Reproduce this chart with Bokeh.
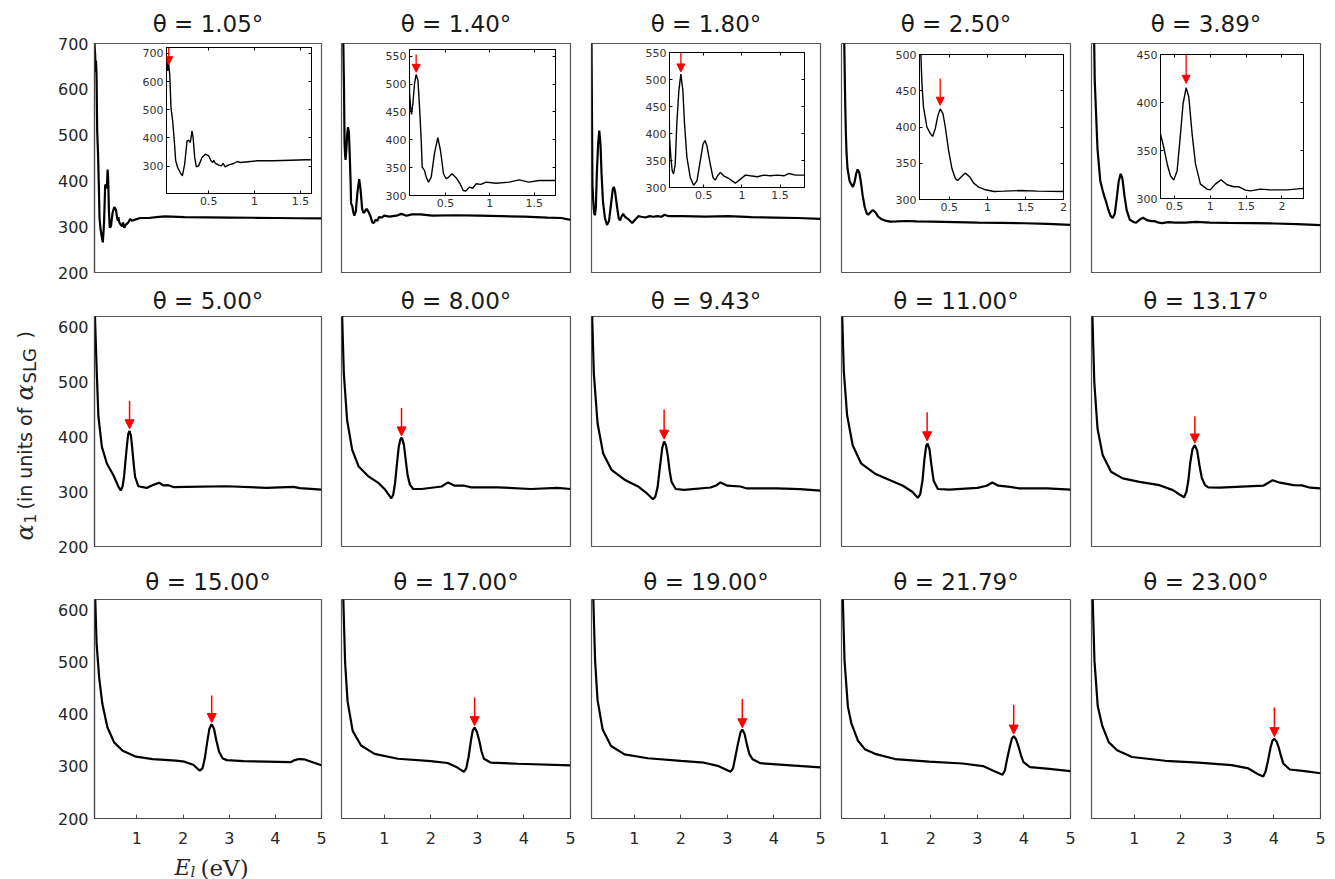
import math
from jinja2 import Template
from bokeh.plotting import figure
from bokeh.models import Range1d, Arrow, NormalHead, Label, FixedTicker, LinearAxis
from bokeh.embed import file_html
from bokeh.resources import INLINE

FONT = "DejaVu Sans"
SERIF = "DejaVu Serif"
INK = "#262626"

titles = ["θ = 1.05°", "θ = 1.40°", "θ = 1.80°", "θ = 2.50°", "θ = 3.89°",
          "θ = 5.00°", "θ = 8.00°", "θ = 9.43°", "θ = 11.00°", "θ = 13.17°",
          "θ = 15.00°", "θ = 17.00°", "θ = 19.00°", "θ = 21.79°", "θ = 23.00°"]

# (E_l in eV, alpha_1 in units of alpha_SLG)
c105 = [(0.03, 700), (0.045, 674), (0.053, 638), (0.064, 662), (0.075, 627), (0.089, 508), (0.107, 461),
        (0.125, 390), (0.14, 319), (0.162, 295), (0.19, 277.5), (0.213, 265.7), (0.238, 307), (0.264, 390),
        (0.28, 392), (0.30, 384), (0.318, 425), (0.33, 402), (0.347, 331), (0.365, 298), (0.39, 301),
        (0.427, 331), (0.464, 342.6), (0.5, 336.7), (0.525, 319), (0.544, 313), (0.555, 321), (0.573, 309.5),
        (0.61, 303.5), (0.638, 301), (0.656, 309.5), (0.68, 297.6), (0.718, 304.7), (0.773, 309.5),
        (0.81, 316.6), (0.845, 313), (0.955, 316.6), (1.03, 319), (1.21, 319), (1.39, 321), (1.57, 322.5),
        (2.0, 321), (2.5, 320.5), (3.0, 320), (3.5, 319.5), (4.0, 319), (4.5, 318.5), (5.0, 318)]
c140 = [(0.03, 900), (0.06, 760), (0.085, 600), (0.096, 483), (0.107, 459), (0.118, 445.7), (0.133, 465),
        (0.152, 501), (0.17, 517), (0.19, 507), (0.208, 459), (0.227, 399), (0.238, 351), (0.264, 345),
        (0.283, 333), (0.309, 324), (0.34, 333), (0.376, 375), (0.414, 403.7), (0.444, 381), (0.478, 339),
        (0.508, 330), (0.537, 333), (0.575, 339), (0.62, 332), (0.665, 321), (0.70, 309), (0.73, 308),
        (0.77, 315), (0.807, 313), (0.845, 321), (0.9, 320), (0.957, 324), (1.07, 322), (1.22, 324),
        (1.33, 328), (1.44, 324), (1.556, 327), (1.74, 327), (2.0, 324), (2.5, 325), (3.0, 324),
        (3.5, 323), (4.0, 322), (4.5, 320), (4.8, 319), (5.0, 315)]
c180 = [(0.01, 1000), (0.03, 700), (0.05, 393), (0.068, 356), (0.085, 331), (0.103, 325), (0.125, 343),
        (0.146, 418), (0.173, 480), (0.199, 510), (0.225, 480), (0.247, 418), (0.278, 356), (0.322, 318.6),
        (0.366, 304), (0.41, 312.4), (0.454, 349.6), (0.49, 380.6), (0.515, 387), (0.54, 377.5),
        (0.585, 343), (0.62, 318.6), (0.65, 313.6), (0.68, 321.7), (0.717, 328), (0.76, 321.7),
        (0.826, 316.7), (0.87, 312.4), (0.914, 308), (0.98, 315.5), (1.046, 323), (1.11, 321.7),
        (1.2, 320), (1.29, 323), (1.37, 321.7), (1.46, 323), (1.55, 321.7), (1.616, 326), (1.7, 323),
        (1.813, 323), (2.0, 323), (2.5, 322), (3.0, 323), (3.5, 321), (4.0, 320), (4.5, 319), (5.0, 317)]
c250 = [(0.03, 1100), (0.06, 880), (0.09, 700), (0.11, 570), (0.126, 500), (0.14, 460), (0.16, 427.6),
        (0.205, 400), (0.25, 390.8), (0.28, 387), (0.315, 397.7), (0.35, 416), (0.38, 425), (0.416, 418.4),
        (0.447, 400), (0.49, 367.7), (0.535, 342.4), (0.58, 328.6), (0.61, 326.3), (0.654, 330.9),
        (0.71, 336.4), (0.77, 330.9), (0.82, 322.6), (0.887, 317), (0.975, 313.4), (1.085, 311),
        (1.217, 311.5), (1.437, 312.4), (1.657, 311.5), (2.0, 311), (2.5, 310), (3.0, 309), (3.5, 308.5),
        (4.0, 307.5), (4.5, 306), (5.0, 304)]
c389 = [(0.03, 1300), (0.06, 900), (0.1, 620), (0.16, 470), (0.22, 400), (0.27, 380), (0.305, 367.3),
        (0.35, 353.4), (0.398, 336), (0.444, 323.7), (0.49, 319.2), (0.537, 329), (0.584, 367.3),
        (0.62, 398.7), (0.663, 415.5), (0.70, 405.7), (0.746, 367.3), (0.793, 336), (0.862, 315),
        (0.955, 309.8), (1.0, 309), (1.07, 315), (1.15, 319.5), (1.234, 314.3), (1.327, 312.2),
        (1.4, 312.2), (1.49, 308.7), (1.56, 308), (1.7, 309.8), (1.84, 309), (2.07, 309), (2.3, 310.5),
        (2.6, 309), (3.0, 308.5), (3.5, 308), (4.0, 307), (4.5, 305.5), (5.0, 303.5)]
c500 = [(0.08, 700), (0.09, 620), (0.13, 516), (0.165, 437), (0.24, 382), (0.35, 351), (0.49, 330),
        (0.60, 309), (0.65, 302.4), (0.69, 310), (0.72, 327), (0.75, 355), (0.78, 382), (0.81, 405),
        (0.84, 411), (0.87, 402), (0.895, 382), (0.93, 350), (0.96, 327), (1.03, 310), (1.21, 307),
        (1.37, 313), (1.48, 316.5), (1.57, 311.6), (1.68, 312), (1.79, 308.5), (2.08, 309), (2.94, 310),
        (3.81, 307), (4.39, 309), (4.53, 306.7), (5.0, 303.7)]
c800 = [(0.085, 700), (0.094, 620), (0.13, 516.5), (0.2, 431), (0.31, 376.5), (0.45, 346), (0.66, 328),
        (0.88, 315.6), (1.02, 303.5), (1.15, 288), (1.19, 294), (1.23, 315), (1.27, 350), (1.31, 382),
        (1.35, 397), (1.38, 398), (1.42, 386), (1.46, 358), (1.50, 330), (1.55, 313), (1.62, 305),
        (1.80, 305), (2.23, 309.6), (2.37, 317), (2.51, 311), (2.72, 311), (2.87, 308), (3.44, 308),
        (4.15, 305), (4.72, 307), (5.0, 305)]
c943 = [(0.085, 700), (0.094, 620), (0.13, 516), (0.21, 425), (0.33, 370), (0.51, 340), (0.79, 322),
        (1.08, 309.6), (1.25, 298.6), (1.40, 286.4), (1.45, 291), (1.50, 308), (1.55, 345), (1.60, 380),
        (1.64, 391.7), (1.68, 385), (1.72, 365), (1.76, 337), (1.80, 318), (1.89, 305), (2.07, 303.5),
        (2.64, 307.7), (2.77, 312), (2.85, 317), (3.0, 311), (3.28, 309.6), (3.42, 306), (4.06, 306),
        (4.56, 304.7), (5.0, 302)]
c1100 = [(0.085, 700), (0.095, 620), (0.13, 520), (0.2, 440), (0.32, 385), (0.5, 352), (0.8, 333),
         (1.1, 322), (1.4, 311), (1.6, 300), (1.72, 289), (1.77, 295), (1.82, 320), (1.86, 358),
         (1.90, 384), (1.93, 388), (1.97, 378), (2.01, 350), (2.06, 320), (2.15, 305), (2.4, 304),
         (3.0, 307), (3.2, 311), (3.32, 317), (3.45, 311), (3.7, 309), (3.9, 306), (4.5, 306), (5.0, 304)]
c1317 = [(0.085, 700), (0.10, 620), (0.14, 500), (0.21, 415), (0.32, 367), (0.50, 336.6), (0.75, 324.4),
         (1.11, 318), (1.54, 312), (1.83, 303), (1.97, 295), (2.07, 290), (2.12, 300), (2.16, 320),
         (2.20, 352), (2.25, 378), (2.30, 385), (2.35, 375), (2.40, 348), (2.45, 325), (2.52, 312),
         (2.59, 308), (2.84, 307.4), (3.77, 311), (3.87, 316), (3.97, 321), (4.13, 316.5), (4.42, 312),
         (4.6, 311.7), (4.78, 307.4), (5.0, 306)]
c1500 = [(0.085, 700), (0.097, 618.6), (0.126, 535), (0.18, 471), (0.25, 420), (0.36, 375), (0.505, 346),
         (0.69, 330), (0.98, 318.6), (1.34, 314), (1.85, 311), (2.03, 309), (2.22, 303), (2.36, 291.7),
         (2.42, 296), (2.47, 315), (2.52, 345), (2.57, 372), (2.62, 381), (2.67, 372), (2.72, 350),
         (2.78, 328), (2.86, 315), (2.95, 312), (3.31, 310), (4.33, 308), (4.42, 312), (4.51, 314),
         (4.62, 313.5), (5.0, 302)]
c1700 = [(0.1, 700), (0.12, 617), (0.157, 500), (0.21, 425), (0.32, 368), (0.50, 340), (0.79, 324),
         (1.29, 314.6), (2.0, 310), (2.36, 306.4), (2.57, 297.6), (2.71, 289.4), (2.76, 296), (2.81, 318),
         (2.86, 349), (2.90, 369), (2.94, 374.4), (2.99, 366), (3.04, 349), (3.09, 328), (3.14, 314.6),
         (3.29, 307), (3.86, 305), (5.0, 302)]
c1900 = [(0.1, 700), (0.12, 618), (0.157, 503), (0.21, 427), (0.32, 370.5), (0.5, 339), (0.79, 323),
         (1.29, 315.6), (2.0, 310.5), (2.5, 307), (2.79, 301), (3.07, 289.7), (3.12, 296), (3.17, 318),
         (3.23, 345), (3.28, 365), (3.32, 370.5), (3.37, 362), (3.41, 345), (3.47, 324), (3.54, 313.7),
         (3.71, 306), (4.36, 302), (5.0, 298)]
c2179 = [(0.09, 700), (0.109, 619), (0.145, 503), (0.217, 415), (0.29, 383), (0.435, 349), (0.58, 333),
         (0.80, 324), (1.23, 314), (1.96, 309), (2.68, 305.5), (3.12, 300.5), (3.33, 292), (3.54, 284),
         (3.59, 292), (3.64, 315), (3.70, 339), (3.74, 353), (3.78, 358), (3.83, 352), (3.88, 339),
         (3.94, 320), (3.99, 308), (4.13, 298.6), (4.49, 295.5), (5.0, 291)]
c2300 = [(0.09, 700), (0.107, 618), (0.143, 503.7), (0.214, 415.6), (0.31, 378), (0.45, 346.5),
         (0.63, 330.8), (0.95, 318), (1.66, 310.7), (2.38, 307), (3.09, 302.5), (3.45, 296), (3.66, 285),
         (3.77, 280.5), (3.82, 290), (3.87, 310), (3.93, 337), (3.97, 350), (4.01, 352.8), (4.06, 347),
         (4.10, 337), (4.15, 320), (4.2, 305.6), (4.34, 294), (4.66, 291), (5.0, 286.8)]

curves = [c105, c140, c180, c250, c389, c500, c800, c943, c1100, c1317,
          c1500, c1700, c1900, c2179, c2300]

# red arrows: energy of the marked peak, arrow tail value, arrow tip value
arrow_E = [0.064, 0.17, 0.199, 0.38, 0.663, 0.84, 1.37, 1.64, 1.92, 2.30, 2.62, 2.94, 3.32, 3.78, 4.01]
arrow_top = [720, 553, 550, 467, 450, 466, 453, 450, 445, 438, 436, 432, 429, 418, 413]
arrow_tip = [660, 521, 514, 430, 420, 415, 402, 396, 393, 389, 384, 378, 374, 362, 357]

# insets of the top row
inset_xr = [(0.04, 1.62), (0.095, 1.74), (0.05, 1.82), (0.108, 2.0), (0.305, 2.30)]
inset_yr = [(203, 721), (300, 562), (300, 550), (300, 500), (300, 450)]
inset_xticks = [[0.5, 1, 1.5], [0.5, 1, 1.5], [0.5, 1, 1.5], [0.5, 1, 1.5, 2], [0.5, 1, 1.5, 2]]
inset_yticks = [[300, 400, 500, 600, 700], [300, 350, 400, 450, 500, 550], [300, 350, 400, 450, 500, 550],
                [300, 350, 400, 450, 500], [300, 350, 400, 450]]
main_yticks_top = [200, 300, 400, 500, 600, 700]
main_yticks = [200, 300, 400, 500, 600]
main_xticks = [1, 2, 3, 4, 5]

# page layout (pixels)
col_left = [0, 331, 581, 831, 1081]
row_top = [0, 282, 556]
inset_box = [(166, 47, 145, 146), (409, 49, 146, 146), (669, 52, 135, 135), (919, 54, 144, 145), (1160, 54, 143, 144)]


def fmt(t):
    return str(int(t)) if float(t).is_integer() else str(t)


def make_main(r, c, pts, title):
    E = [q[0] for q in pts]
    A = [q[1] for q in pts]
    fw = 227 if c == 0 else 229
    fh = [229, 230, 219][r]
    p = figure(frame_width=fw, frame_height=fh,
               x_range=Range1d(0.03, 5.0) if r == 0 else Range1d(0.08, 5.0),
               y_range=Range1d(200, 700) if r == 0 else Range1d(200, 620),
               output_backend="svg", toolbar_location=None, tools="",
               x_axis_location="below" if r == 2 else None,
               y_axis_location="left" if c == 0 else None,
               min_border_top=[43, 34, 43][r], min_border_bottom=[10, 10, 60][r],
               min_border_left=94 if c == 0 else 10, min_border_right=10 if c == 0 else 11,
               title=title, background_fill_color="white", border_fill_color="white")
    p.title.align = "center"
    p.title.text_font = FONT
    p.title.text_font_size = "23px"
    p.title.text_font_style = "normal"
    p.title.text_color = "#1a1a1a"
    p.title.standoff = [13, 5, 10][r]
    p.outline_line_color = "#555555"
    p.outline_line_width = 1.2
    p.xgrid.visible = False
    p.ygrid.visible = False
    for ax in p.axis:
        ax.axis_line_color = "#444444"
        ax.axis_line_width = 1.2
        ax.major_label_text_font = FONT
        ax.major_label_text_font_size = "16px"
        ax.major_label_text_color = INK
        ax.minor_tick_line_color = None
        ax.major_tick_line_color = "#444444"
    if r == 2:
        p.xaxis.ticker = FixedTicker(ticks=main_xticks)
        p.xaxis.major_tick_in = 4
        p.xaxis.major_tick_out = 0
        p.xaxis.major_label_standoff = 13
    if c == 0:
        p.yaxis.ticker = FixedTicker(ticks=main_yticks_top if r == 0 else main_yticks)
        p.yaxis.major_tick_in = 0
        p.yaxis.major_tick_out = 0
        p.yaxis.major_label_standoff = 6
    p.line(E, A, line_color="black", line_width=2.2)
    k = r * 5 + c
    if r > 0:
        p.add_layout(Arrow(end=NormalHead(size=9, fill_color="red", line_color="red", line_width=1),
                           x_start=arrow_E[k], y_start=arrow_top[k], x_end=arrow_E[k], y_end=arrow_tip[k],
                           line_color="red", line_width=1.5))
    return p


def make_inset(c, pts):
    E = [q[0] for q in pts]
    A = [q[1] for q in pts]
    left, top, w, h = inset_box[c]
    p = figure(frame_width=w, frame_height=h,
               x_range=Range1d(*inset_xr[c]), y_range=Range1d(*inset_yr[c]),
               output_backend="svg", toolbar_location=None, tools="",
               min_border_left=32, min_border_right=6, min_border_top=8, min_border_bottom=20,
               background_fill_color="white", border_fill_color=None)
    p.outline_line_color = "black"
    p.outline_line_width = 1
    p.xgrid.visible = False
    p.ygrid.visible = False
    p.xaxis.ticker = FixedTicker(ticks=inset_xticks[c])
    p.xaxis.major_label_overrides = {t: fmt(t) for t in inset_xticks[c]}
    p.yaxis.ticker = FixedTicker(ticks=inset_yticks[c])
    p.add_layout(LinearAxis(ticker=FixedTicker(ticks=inset_xticks[c]),
                            major_label_overrides={t: "" for t in inset_xticks[c]}), "above")
    p.add_layout(LinearAxis(ticker=FixedTicker(ticks=inset_yticks[c]),
                            major_label_overrides={t: "" for t in inset_yticks[c]}), "right")
    for ax in p.axis:
        ax.axis_line_color = "black"
        ax.major_tick_line_color = "black"
        ax.minor_tick_line_color = None
        ax.major_tick_in = 3
        ax.major_tick_out = 0
        ax.major_label_text_font = FONT
        ax.major_label_text_font_size = "11px"
        ax.major_label_text_color = "#333333"
        ax.major_label_standoff = 3
    p.line(E, A, line_color="black", line_width=1.4)
    p.add_layout(Arrow(end=NormalHead(size=8, fill_color="red", line_color="red", line_width=1),
                       x_start=arrow_E[c], y_start=arrow_top[c], x_end=arrow_E[c], y_end=arrow_tip[c],
                       line_color="red", line_width=1.3))
    return p


models, pos = [], []
for r in range(3):
    for c in range(5):
        k = r * 5 + c
        models.append(make_main(r, c, curves[k], titles[k]))
        pos.append((col_left[c], row_top[r]))

for c in range(5):
    models.append(make_inset(c, curves[c]))
    pos.append((inset_box[c][0] - 32, inset_box[c][1] - 8))

# overlay for the axis titles (page pixel coordinates)
ov = figure(width=300, height=589, x_range=Range1d(0, 300), y_range=Range1d(879, 290),
            output_backend="svg", toolbar_location=None, tools="", min_border=0,
            x_axis_location=None, y_axis_location=None,
            background_fill_color=None, border_fill_color=None, outline_line_color=None)
ov.xgrid.visible = False
ov.ygrid.visible = False

# y-axis title: alpha_1 (in units of alpha_SLG), written upwards in pieces
ypieces = [("α", SERIF, "italic", "24px", 24, 540),
           ("1", FONT, "normal", "15px", 29, 523),
           ("(in units of", FONT, "normal", "19px", 24, 509),
           ("α", SERIF, "italic", "24px", 24, 400),
           ("SLG", FONT, "normal", "18px", 29, 383),
           (")", FONT, "normal", "19px", 24, 338)]
for txt, fnt, sty, sz, x, y in ypieces:
    ov.add_layout(Label(x=x, y=y, text=txt, angle=math.pi / 2,
                        text_font=fnt, text_font_style=sty, text_font_size=sz, text_color=INK,
                        text_align="left", text_baseline="alphabetic"))

# x-axis title E_l (eV)
xpieces = [("E", SERIF, "italic", "22px", 174, 867),
           ("l", SERIF, "italic", "15px", 190, 871),
           ("(eV)", SERIF, "normal", "23px", 200, 867)]
for txt, fnt, sty, sz, x, y in xpieces:
    ov.add_layout(Label(x=x, y=y, text=txt,
                        text_font=fnt, text_font_style=sty, text_font_size=sz, text_color=INK,
                        text_align="left", text_baseline="alphabetic"))
models.append(ov)
pos.append((0, 290))

PAGE = Template("""<!DOCTYPE html>
<html lang="en">
<head>
<meta charset="utf-8">
<title>alpha_1 spectra</title>
{{ bokeh_css if bokeh_css }}
{{ bokeh_js if bokeh_js }}
<style>html, body { margin: 0; padding: 0; background: #ffffff; overflow: hidden; }</style>
</head>
<body>
{% from macros import embed %}
{% for root in roots %}
<div style="position: absolute; left: {{ pos[loop.index0][0] }}px; top: {{ pos[loop.index0][1] }}px;">
{{ embed(root) }}
</div>
{% endfor %}
{{ plot_script }}
</body>
</html>""")

open("out.html", "w").write(file_html(models, INLINE, template=PAGE, template_variables={"pos": pos}))
